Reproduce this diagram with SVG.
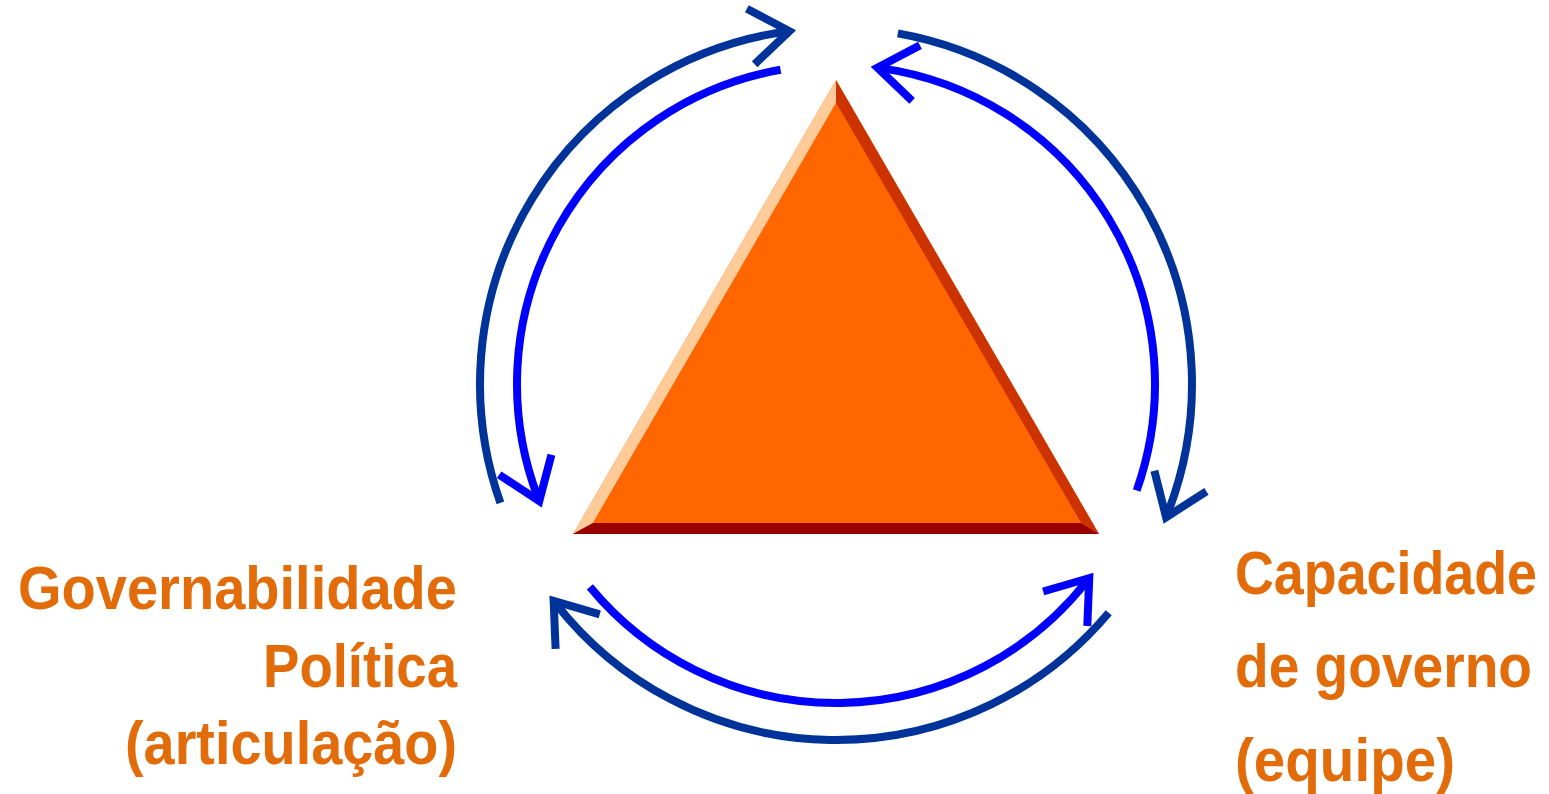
<svg xmlns="http://www.w3.org/2000/svg" width="1549" height="794" viewBox="0 0 1549 794">
  <style>
    .outer { fill: none; stroke: #003399; stroke-width: 8; }
    .inner { fill: none; stroke: #0000FF; stroke-width: 8; }
    .lbl { font-family: "Liberation Sans Narrow", "Liberation Sans", Arial, sans-serif; font-weight: bold; font-size: 62px; fill: #E36C0A; }
  </style>
  <defs>
    <marker id="arrDark" markerUnits="userSpaceOnUse" viewBox="-45 -35 55 70" refX="0" refY="0" markerWidth="55" markerHeight="70" orient="auto" overflow="visible">
      <path d="M-36,-28 L3,0 L-36,28" fill="none" stroke="#003399" stroke-width="8" stroke-linejoin="miter"/>
    </marker>
    <marker id="arrBright" markerUnits="userSpaceOnUse" viewBox="-45 -35 55 70" refX="0" refY="0" markerWidth="55" markerHeight="70" orient="auto" overflow="visible">
      <path d="M-36,-28 L3,0 L-36,28" fill="none" stroke="#0000FF" stroke-width="8" stroke-linejoin="miter"/>
    </marker>
  </defs>

  <g id="connectors">
    <path class="outer" d="M500.4,502.8 A356,356 0 0 1 786.4,31.5" marker-end="url(#arrDark)"/>
    <path class="inner" d="M780.6,69.8 A319,319 0 0 0 538.2,498.3" marker-end="url(#arrBright)"/>
    <path class="outer" d="M897.8,33.4 A356,356 0 0 1 1167.2,514.5" marker-end="url(#arrDark)"/>
    <path class="inner" d="M1136.7,490.5 A319,319 0 0 0 880.4,68.1" marker-end="url(#arrBright)"/>
    <path class="outer" d="M1108.7,612.8 A356,356 0 0 1 555.5,603.2" marker-end="url(#arrDark)"/>
    <path class="inner" d="M589.9,586.9 A319,319 0 0 0 1087.4,580.4" marker-end="url(#arrBright)"/>
  </g>

  <g id="triangle">
    <polygon points="836,80 573,534 1099,534" fill="#FF6600"/>
    <polygon points="836,80 573,534 593,523 836,103" fill="#FFCC99"/>
    <polygon points="836,80 1099,534 1081,523 836,103" fill="#CC3300"/>
    <polygon points="573,534 1099,534 1081,523 593,523" fill="#990000"/>
    <polygon points="836,103 593,523 1081,523" fill="#FF6600"/>
  </g>

  <g id="label-governabilidade">
    <text class="lbl" x="18" y="609" textLength="439" lengthAdjust="spacingAndGlyphs">Governabilidade</text>
    <text class="lbl" x="263" y="687" textLength="194" lengthAdjust="spacingAndGlyphs">Política</text>
    <text class="lbl" x="125" y="764" textLength="332" lengthAdjust="spacingAndGlyphs">(articulação)</text>
  </g>

  <g id="label-capacidade">
    <text class="lbl" x="1235" y="594" textLength="302" lengthAdjust="spacingAndGlyphs">Capacidade</text>
    <text class="lbl" x="1235" y="687" textLength="297" lengthAdjust="spacingAndGlyphs">de governo</text>
    <text class="lbl" x="1235" y="781" textLength="220" lengthAdjust="spacingAndGlyphs">(equipe)</text>
  </g>
</svg>
